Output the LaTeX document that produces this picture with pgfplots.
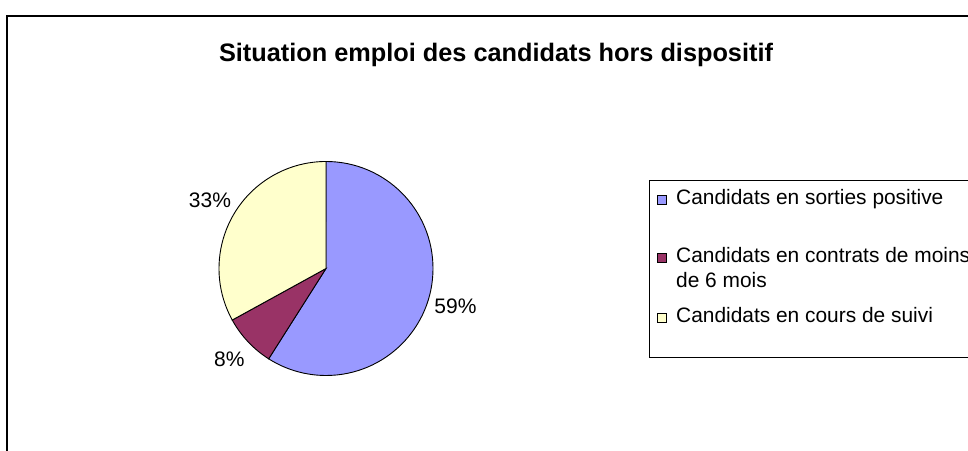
\documentclass[border=0pt]{standalone}
\usepackage{fontspec}
\setmainfont{Liberation Sans}
\usepackage{pgfplots}
\pgfplotsset{compat=1.18}
\usepackage{pgfplotstable}

\definecolor{sliceblue}{HTML}{9999FF}
\definecolor{sliceplum}{HTML}{993366}
\definecolor{sliceivory}{HTML}{FFFFCC}

% shares of the three groups, in %
\pgfplotstableread{
share
59
8
33
}\piedata

\newcommand\lblfont{\fontsize{21bp}{25bp}\selectfont}

\begin{document}%
\pgfplotstablegetelem{0}{share}\of\piedata \let\sA\pgfplotsretval%
\pgfplotstablegetelem{1}{share}\of\piedata \let\sB\pgfplotsretval%
\pgfplotstablegetelem{2}{share}\of\piedata \let\sC\pgfplotsretval%
\pgfmathsetmacro\tot{\sA+\sB+\sC}%
% slices run clockwise from 12 o'clock
\pgfmathsetmacro\aA{90}%
\pgfmathsetmacro\aB{\aA-360*(\sA/\tot)}%
\pgfmathsetmacro\aC{\aB-360*(\sB/\tot)}%
\pgfmathsetmacro\aD{\aC-360*(\sC/\tot)}%
\pgfmathsetmacro\mA{(\aA+\aB)/2}%
\pgfmathsetmacro\mB{(\aB+\aC)/2}%
\pgfmathsetmacro\mC{(\aC+\aD)/2}%
\begin{tikzpicture}[x=1bp,y=1bp]
\begin{scope}
  \clip (0,0) rectangle (968,451);
  \draw[line width=1.8bp] (7,-20) rectangle (1000,435);
  % legend box, runs past the right edge
  \draw[line width=0.8bp] (649.5,94) rectangle (1000,271);
\end{scope}

\node[anchor=base, font=\fontsize{25.3bp}{29bp}\selectfont\bfseries] at (496,389)
  {Situation emploi des candidats hors dispositif};

\begin{axis}[
  at={(326bp,182.5bp)}, anchor=origin,
  scale only axis, width=214bp, height=214bp,
  xmin=-1, xmax=1, ymin=-1, ymax=1,
  hide axis, clip=false,
]
\filldraw[fill=sliceblue, draw=black, line width=0.9bp]
  (axis cs:0,0) -- (axis cs:{cos(\aA)},{sin(\aA)})
  arc[start angle=\aA, end angle=\aB, radius=107bp] -- cycle;
\filldraw[fill=sliceplum, draw=black, line width=0.9bp]
  (axis cs:0,0) -- (axis cs:{cos(\aB)},{sin(\aB)})
  arc[start angle=\aB, end angle=\aC, radius=107bp] -- cycle;
\filldraw[fill=sliceivory, draw=black, line width=0.9bp]
  (axis cs:0,0) -- (axis cs:{cos(\aC)},{sin(\aC)})
  arc[start angle=\aC, end angle=\aD, radius=107bp] -- cycle;
\node[font=\lblfont] at (axis cs:{1.26*cos(\mA)},{1.26*sin(\mA)}) {\sA\%};
\node[font=\lblfont] at (axis cs:{1.24*cos(\mB)},{1.24*sin(\mB)}) {\sB\%};
\node[font=\lblfont] at (axis cs:{1.26*cos(\mC)},{1.26*sin(\mC)}) {\sC\%};
\end{axis}

% legend
\begin{scope}[every node/.style={anchor=base west, inner sep=0pt,
    font=\fontsize{20.9bp}{24bp}\selectfont}]
  \filldraw[fill=sliceblue, draw=black, line width=0.6bp] (657,247) rectangle (666,256);
  \node at (676,246) {Candidats en sorties positive};
  \filldraw[fill=sliceplum, draw=black, line width=0.6bp] (657,189) rectangle (666,198);
  \node at (676,188) {Candidats en contrats de moins};
  \node at (676,163) {de 6 mois};
  \filldraw[fill=sliceivory, draw=black, line width=0.6bp] (657,129) rectangle (666,138);
  \node at (676,128) {Candidats en cours de suivi};
\end{scope}
\pgfresetboundingbox
\useasboundingbox (0,0) rectangle (968,451);
\end{tikzpicture}%
\end{document}
